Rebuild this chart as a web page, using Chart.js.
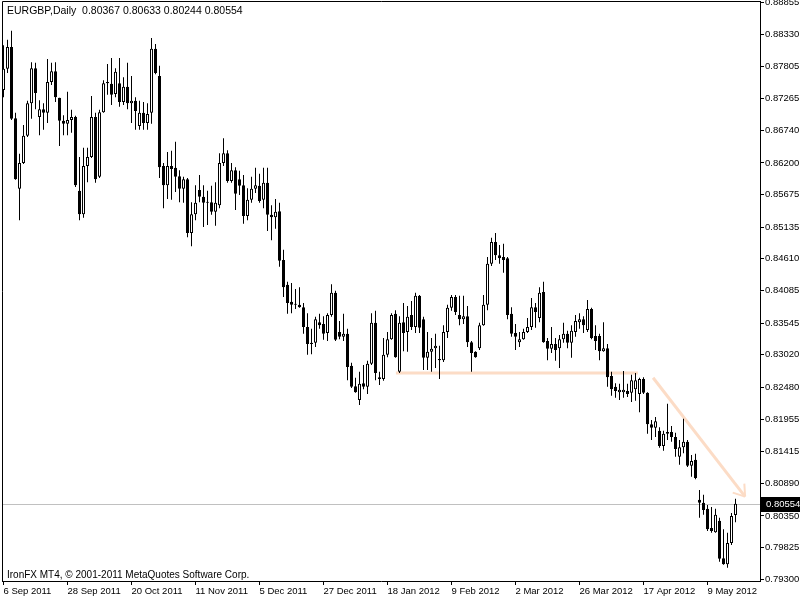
<!DOCTYPE html>
<html>
<head>
<meta charset="utf-8">
<script src="https://cdn.jsdelivr.net/npm/chart.js"></script>
<style>
  html, body { margin: 0; padding: 0; background: #fff; }
</style>
</head>
<body>
<canvas id="chart" width="800" height="600"></canvas>
<script>
const symbol = "EURGBP";
const period = "Daily";
const copyright = "IronFX MT4, © 2001-2011 MetaQuotes Software Corp.";

// one label every 16 daily bars, first bar = 6 Sep 2011
const dateTicks = ["6 Sep 2011", "28 Sep 2011", "20 Oct 2011", "11 Nov 2011", "5 Dec 2011", "27 Dec 2011",
  "18 Jan 2012", "9 Feb 2012", "2 Mar 2012", "26 Mar 2012", "17 Apr 2012", "9 May 2012"];
const dateTickStep = 16;

const priceTicks = [0.88855, 0.88330, 0.87805, 0.87265, 0.86740, 0.86200, 0.85675, 0.85135, 0.84610, 0.84085,
  0.83545, 0.83020, 0.82480, 0.81955, 0.81415, 0.80890, 0.80350, 0.79825, 0.79300];

const opens = [
  0.8741, 0.8776, 0.8812, 0.8694, 0.8577, 0.8620, 0.8665, 0.8719, 0.8777, 0.8696,
  0.8709, 0.8703, 0.8754, 0.8772, 0.8728, 0.8690, 0.8685, 0.8691, 0.8696, 0.8574,
  0.8535, 0.8615, 0.8630, 0.8696, 0.8597, 0.8704, 0.8752, 0.8751, 0.8734, 0.8752,
  0.8721, 0.8746, 0.8719, 0.8723, 0.8681, 0.8703, 0.8686, 0.8703, 0.8809, 0.8764,
  0.8615, 0.8583, 0.8615, 0.8612, 0.8598, 0.8577, 0.8593, 0.8504, 0.8535, 0.8575,
  0.8564, 0.8555, 0.8555, 0.8539, 0.8550, 0.8620, 0.8636, 0.8590, 0.8608, 0.8593,
  0.8583, 0.8532, 0.8559, 0.8577, 0.8582, 0.8559, 0.8587, 0.8534, 0.8530, 0.8540,
  0.8459, 0.8418, 0.8390, 0.8386, 0.8385, 0.8381, 0.8348, 0.8320, 0.8322, 0.8356,
  0.8353, 0.8338, 0.8368, 0.8405, 0.8340, 0.8332, 0.8337, 0.8284, 0.8250, 0.8227,
  0.8255, 0.8249, 0.8287, 0.8355, 0.8265, 0.8262, 0.8302, 0.8328, 0.8370, 0.8274,
  0.8356, 0.8340, 0.8368, 0.8348, 0.8400, 0.8361, 0.8297, 0.8307, 0.8313, 0.8295,
  0.8293, 0.8340, 0.8380, 0.8398, 0.8368, 0.8361, 0.8366, 0.8323, 0.8307, 0.8313,
  0.8351, 0.8385, 0.8453, 0.8489, 0.8467, 0.8464, 0.8462, 0.8370, 0.8338, 0.8323,
  0.8328, 0.8340, 0.8348, 0.8381, 0.8363, 0.8406, 0.8325, 0.8312, 0.8320, 0.8313,
  0.8328, 0.8337, 0.8322, 0.8340, 0.8356, 0.8361, 0.8343, 0.8378, 0.8333, 0.8333,
  0.8308, 0.8313, 0.8267, 0.8249, 0.8240, 0.8240, 0.8242, 0.8239, 0.8245, 0.8237,
  0.8262, 0.8239, 0.8187, 0.8181, 0.8176, 0.8151, 0.8171, 0.8174, 0.8166, 0.8133,
  0.8149, 0.8158, 0.8118, 0.8128, 0.8062, 0.8057, 0.8047, 0.8015, 0.8008, 0.8027,
  0.7965, 0.7955, 0.7990, 0.80367
];
const highs = [
  0.8815, 0.8824, 0.8839, 0.8703, 0.8635, 0.8683, 0.8723, 0.8787, 0.8786, 0.8724,
  0.8719, 0.8792, 0.8786, 0.8787, 0.8728, 0.8699, 0.8738, 0.8708, 0.8698, 0.8630,
  0.8645, 0.8645, 0.8731, 0.8703, 0.8708, 0.8757, 0.8784, 0.8794, 0.8777, 0.8794,
  0.8762, 0.8786, 0.8764, 0.8729, 0.8723, 0.8721, 0.8719, 0.8827, 0.8817, 0.8781,
  0.8620, 0.8638, 0.8640, 0.8655, 0.8608, 0.8597, 0.8595, 0.8555, 0.8583, 0.8600,
  0.8583, 0.8574, 0.8582, 0.8588, 0.8636, 0.8661, 0.8641, 0.8620, 0.8613, 0.8607,
  0.8600, 0.8578, 0.8597, 0.8612, 0.8602, 0.8612, 0.8612, 0.8550, 0.8560, 0.8554,
  0.8476, 0.8423, 0.8421, 0.8411, 0.8414, 0.8388, 0.8371, 0.8345, 0.8365, 0.8370,
  0.8366, 0.8371, 0.8419, 0.8408, 0.8358, 0.8370, 0.8345, 0.8289, 0.8264, 0.8274,
  0.8285, 0.8292, 0.8371, 0.8375, 0.8274, 0.8330, 0.8340, 0.8371, 0.8376, 0.8366,
  0.8388, 0.8383, 0.8391, 0.8405, 0.8401, 0.8365, 0.8340, 0.8330, 0.8337, 0.8317,
  0.8351, 0.8385, 0.8401, 0.8401, 0.8400, 0.8400, 0.8383, 0.8325, 0.8308, 0.8355,
  0.8401, 0.8464, 0.8496, 0.8504, 0.8484, 0.8486, 0.8464, 0.8381, 0.8353, 0.8340,
  0.8345, 0.8363, 0.8396, 0.8388, 0.8414, 0.8423, 0.8330, 0.8348, 0.8330, 0.8335,
  0.8355, 0.8342, 0.8351, 0.8368, 0.8371, 0.8366, 0.8393, 0.8380, 0.8351, 0.8337,
  0.8356, 0.8320, 0.8274, 0.8255, 0.8254, 0.8275, 0.8254, 0.8269, 0.8272, 0.8264,
  0.8265, 0.8240, 0.8194, 0.8199, 0.8182, 0.8176, 0.8221, 0.8184, 0.8173, 0.8161,
  0.8196, 0.8161, 0.8136, 0.8138, 0.8078, 0.8070, 0.8053, 0.8050, 0.8047, 0.8032,
  0.8013, 0.8007, 0.8040, 0.80633
];
const lows = [
  0.8729, 0.8769, 0.8691, 0.8592, 0.8525, 0.8618, 0.8663, 0.8693, 0.8709, 0.8666,
  0.8675, 0.8686, 0.8749, 0.8721, 0.8648, 0.8666, 0.8666, 0.8670, 0.8580, 0.8525,
  0.8529, 0.8588, 0.8628, 0.8587, 0.8595, 0.8703, 0.8733, 0.8716, 0.8729, 0.8713,
  0.8716, 0.8709, 0.8686, 0.8675, 0.8675, 0.8675, 0.8675, 0.8685, 0.8767, 0.8595,
  0.8545, 0.8560, 0.8559, 0.8572, 0.8555, 0.8554, 0.8497, 0.8482, 0.8525, 0.8555,
  0.8514, 0.8517, 0.8534, 0.8516, 0.8545, 0.8615, 0.8587, 0.8587, 0.8542, 0.8567,
  0.8519, 0.8525, 0.8554, 0.8570, 0.8554, 0.8545, 0.8507, 0.8492, 0.8511, 0.8448,
  0.8398, 0.8370, 0.8371, 0.8378, 0.8380, 0.8337, 0.8302, 0.8303, 0.8315, 0.8345,
  0.8327, 0.8325, 0.8365, 0.8325, 0.8328, 0.8325, 0.8260, 0.8247, 0.8239, 0.8219,
  0.8245, 0.8237, 0.8285, 0.8260, 0.8252, 0.8259, 0.8298, 0.8327, 0.8297, 0.8272,
  0.8308, 0.8307, 0.8343, 0.8338, 0.8338, 0.8277, 0.8277, 0.8274, 0.8280, 0.8262,
  0.8290, 0.8330, 0.8375, 0.8368, 0.8351, 0.8353, 0.8315, 0.8274, 0.8297, 0.8310,
  0.8350, 0.8376, 0.8449, 0.8459, 0.8453, 0.8438, 0.8361, 0.8332, 0.8310, 0.8315,
  0.8327, 0.8338, 0.8343, 0.8347, 0.8356, 0.8322, 0.8293, 0.8305, 0.8292, 0.8280,
  0.8322, 0.8313, 0.8297, 0.8332, 0.8345, 0.8338, 0.8340, 0.8328, 0.8310, 0.8293,
  0.8307, 0.8249, 0.8234, 0.8231, 0.8227, 0.8231, 0.8232, 0.8224, 0.8226, 0.8207,
  0.8237, 0.8171, 0.8161, 0.8166, 0.8148, 0.8143, 0.8161, 0.8158, 0.8133, 0.8120,
  0.8139, 0.8116, 0.8100, 0.8096, 0.8032, 0.8037, 0.8010, 0.8007, 0.8007, 0.7959,
  0.7954, 0.7949, 0.7987, 0.80244
];
const closes = [
  0.8776, 0.8812, 0.8693, 0.8593, 0.8620, 0.8665, 0.8719, 0.8777, 0.8736, 0.8709,
  0.8703, 0.8754, 0.8772, 0.8729, 0.8690, 0.8685, 0.8691, 0.8696, 0.8583, 0.8535,
  0.8615, 0.8630, 0.8696, 0.8593, 0.8704, 0.8752, 0.8754, 0.8733, 0.8771, 0.8721,
  0.8746, 0.8719, 0.8723, 0.8706, 0.8703, 0.8686, 0.8701, 0.8809, 0.8769, 0.8613,
  0.8583, 0.8615, 0.8610, 0.8597, 0.8577, 0.8593, 0.8504, 0.8535, 0.8554, 0.8564,
  0.8554, 0.8554, 0.8539, 0.8554, 0.8620, 0.8636, 0.8590, 0.8608, 0.8569, 0.8582,
  0.8532, 0.8559, 0.8577, 0.8583, 0.8557, 0.8587, 0.8534, 0.8530, 0.8539, 0.8458,
  0.8414, 0.8388, 0.8385, 0.8385, 0.8381, 0.8348, 0.8320, 0.8322, 0.8361, 0.8351,
  0.8337, 0.8368, 0.8405, 0.8327, 0.8332, 0.8337, 0.8282, 0.8249, 0.8240, 0.8254,
  0.8249, 0.8287, 0.8355, 0.8272, 0.8262, 0.8302, 0.8328, 0.8368, 0.8298, 0.8355,
  0.8338, 0.8365, 0.8348, 0.8400, 0.8347, 0.8297, 0.8307, 0.8312, 0.8317, 0.8293,
  0.8340, 0.8380, 0.8398, 0.8373, 0.8361, 0.8366, 0.8323, 0.8305, 0.8298, 0.8351,
  0.8385, 0.8453, 0.8489, 0.8467, 0.8462, 0.8459, 0.8368, 0.8337, 0.8332, 0.8328,
  0.8340, 0.8348, 0.8381, 0.8373, 0.8405, 0.8323, 0.8312, 0.8320, 0.8310, 0.8328,
  0.8337, 0.8322, 0.8342, 0.8358, 0.8361, 0.8351, 0.8378, 0.8330, 0.8325, 0.8308,
  0.8313, 0.8265, 0.8245, 0.8242, 0.8244, 0.8244, 0.8237, 0.8260, 0.8260, 0.8262,
  0.8239, 0.8187, 0.8181, 0.8192, 0.8151, 0.8171, 0.8174, 0.8166, 0.8146, 0.8149,
  0.8158, 0.8118, 0.8126, 0.8098, 0.8057, 0.8045, 0.8013, 0.8010, 0.8037, 0.7964,
  0.7955, 0.7990, 0.8035, 0.80554
];

// hand-drawn objects, in (bar index, price)
const supportLine = [[98.1, 0.8272], [158.6, 0.8272]];
const trendArrow = [[162.4, 0.8264], [185.4, 0.8067]];

const OBJ_COLOR = "#fcdcc6";
const FONT = { family: '"Liberation Sans", Arial, sans-serif', size: 9.5 };
const TITLE_CSS = '10.5px "Liberation Sans", Arial, sans-serif';
const NOTE_CSS = '10px "Liberation Sans", Arial, sans-serif';
const TAG_CSS = '9.5px "Liberation Sans", Arial, sans-serif';

const wickData = opens.map((o, i) => ({ x: i, y: [lows[i], highs[i]] }));
const bodyData = opens.map((o, i) => ({ x: i, y: [o, closes[i]] }));
const bodyFill = opens.map((o, i) => (closes[i] > o ? "#ffffff" : "#000000"));
const toXY = (pts) => pts.map(([x, y]) => ({ x, y }));

const mt4Overlay = {
  id: "mt4Overlay",
  beforeDatasetsDraw(chart) {
    // bid line at the last close
    const { ctx, chartArea: a, scales } = chart;
    const py = Math.round(scales.y.getPixelForValue(closes[closes.length - 1])) + 0.5;
    ctx.save();
    ctx.strokeStyle = "#c0c0c0";
    ctx.lineWidth = 1;
    ctx.beginPath();
    ctx.moveTo(a.left, py);
    ctx.lineTo(a.right, py);
    ctx.stroke();
    ctx.restore();
  },
  afterDatasetsDraw(chart) {
    // arrow head on the trend line
    const { ctx, scales } = chart;
    const [p0, p1] = trendArrow;
    const x0 = scales.x.getPixelForValue(p0[0]), y0 = scales.y.getPixelForValue(p0[1]);
    const x1 = scales.x.getPixelForValue(p1[0]), y1 = scales.y.getPixelForValue(p1[1]);
    const ang = Math.atan2(y1 - y0, x1 - x0);
    ctx.save();
    ctx.strokeStyle = OBJ_COLOR;
    ctx.lineWidth = 2;
    ctx.beginPath();
    [-0.6, 0.6].forEach((d) => {
      ctx.moveTo(x1, y1);
      ctx.lineTo(x1 - 13 * Math.cos(ang + d), y1 - 13 * Math.sin(ang + d));
    });
    ctx.stroke();
    ctx.restore();
  },
  afterDraw(chart) {
    const { ctx, chartArea: a, scales } = chart;
    ctx.save();
    // frame
    ctx.strokeStyle = "#000";
    ctx.lineWidth = 1;
    ctx.beginPath();
    ctx.moveTo(a.left + 0.5, a.bottom);
    ctx.lineTo(a.left + 0.5, a.top + 0.5);
    ctx.lineTo(a.right, a.top + 0.5);
    ctx.stroke();

    ctx.fillStyle = "#000";
    ctx.textBaseline = "middle";
    ctx.textAlign = "left";
    const n = closes.length - 1;
    const fmt = (v) => v.toFixed(5);
    ctx.font = TITLE_CSS;
    ctx.fillText(`${symbol},${period}  ${fmt(opens[n])} ${fmt(highs[n])} ${fmt(lows[n])} ${fmt(closes[n])}`, 7, 11);
    ctx.font = NOTE_CSS;
    ctx.fillText(copyright, 7, 575);

    // price tag
    const py = Math.round(scales.y.getPixelForValue(closes[n]));
    ctx.fillRect(a.right + 1, py - 7, 800 - a.right - 1, 15);
    ctx.fillStyle = "#fff";
    ctx.font = TAG_CSS;
    ctx.fillText(fmt(closes[n]), a.right + 6, py + 0.5);
    ctx.restore();
  }
};

new Chart(document.getElementById("chart"), {
  type: "bar",
  data: {
    datasets: [
      {
        type: "line", label: "support", data: toXY(supportLine), borderColor: OBJ_COLOR,
        borderWidth: 3, pointRadius: 0, borderCapStyle: "butt", order: 3
      },
      {
        type: "line", label: "trend", data: toXY(trendArrow), borderColor: OBJ_COLOR,
        borderWidth: 3, pointRadius: 0, borderCapStyle: "butt", order: 3
      },
      {
        label: "wick", data: wickData, backgroundColor: "#000", borderWidth: 0,
        barThickness: 1, grouped: false, inflateAmount: 0, order: 2
      },
      {
        label: "body", data: bodyData, backgroundColor: bodyFill, borderColor: "#000",
        borderWidth: 1, borderSkipped: false, barThickness: 3, minBarLength: 1,
        grouped: false, inflateAmount: 0, order: 1
      }
    ]
  },
  options: {
    responsive: false,
    animation: false,
    devicePixelRatio: 1,
    events: [],
    layout: { padding: { left: 2, top: 1, right: 0, bottom: 0 } },
    plugins: { legend: { display: false }, tooltip: { enabled: false } },
    scales: {
      x: {
        type: "linear", position: "bottom", min: -0.375, max: 189.125, offset: false,
        afterBuildTicks: (s) => { s.ticks = dateTicks.map((_, i) => ({ value: i * dateTickStep })); },
        afterFit: (s) => { s.height = 19; s.paddingLeft = 0; s.paddingRight = 0; },
        ticks: {
          callback: (v) => dateTicks[Math.round(v / dateTickStep)],
          align: "start", autoSkip: false, maxRotation: 0, padding: 1, color: "#000", font: FONT
        },
        grid: { drawOnChartArea: false, drawTicks: true, tickLength: 4, color: "#000", offset: false },
        border: { display: true, color: "#000" }
      },
      y: {
        type: "linear", position: "right", min: 0.79272, max: 0.88883,
        afterBuildTicks: (s) => { s.ticks = priceTicks.map((v) => ({ value: v })); },
        afterFit: (s) => { s.width = 40; s.paddingTop = 0; s.paddingBottom = 0; },
        ticks: { callback: (v) => v.toFixed(5), autoSkip: false, padding: 1, color: "#000", font: FONT },
        grid: { drawOnChartArea: false, drawTicks: true, tickLength: 4, color: "#000" },
        border: { display: true, color: "#000" }
      }
    }
  },
  plugins: [mt4Overlay]
});
</script>
</body>
</html>
